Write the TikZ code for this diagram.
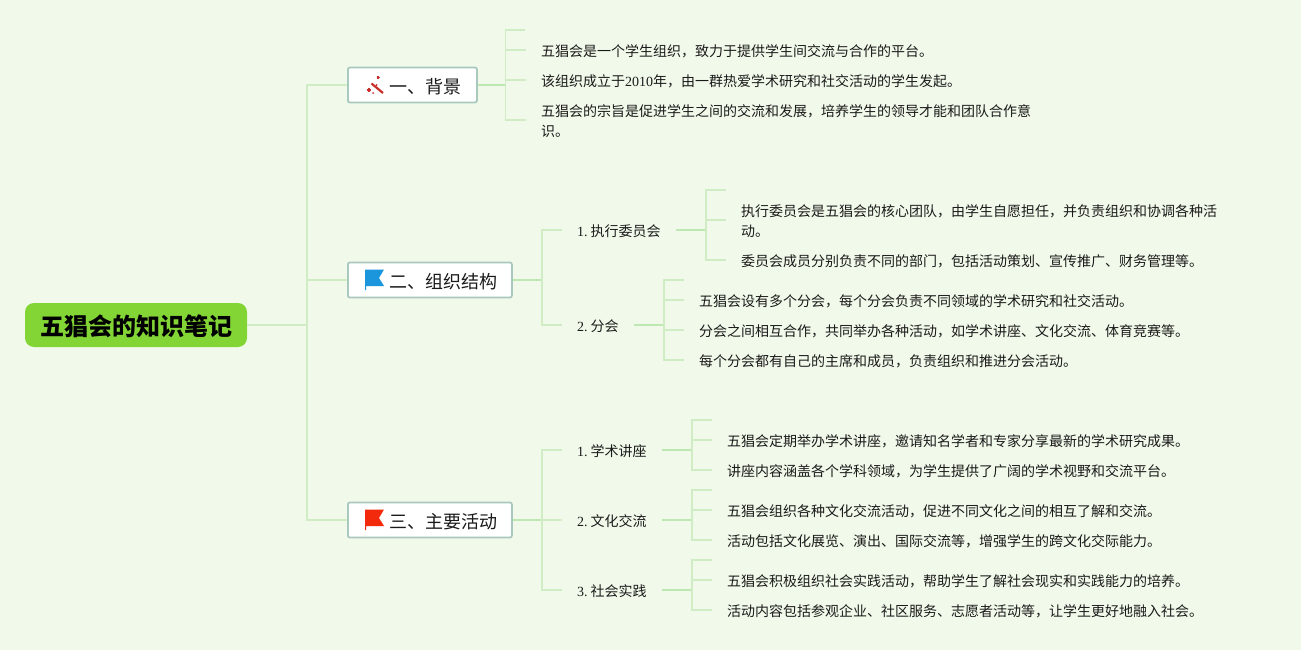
\documentclass[tikz,border=0pt]{standalone}
\usepackage{fontspec}
\setmainfont{Noto Sans CJK SC}
\newfontfamily\lat{Liberation Serif}
\definecolor{bgc}{HTML}{F1FAEA}
\definecolor{rootc}{HTML}{82D535}
\definecolor{edgec}{HTML}{A9C9BE}
\definecolor{conna}{HTML}{CFECC5}
\definecolor{connb}{HTML}{BDE8B1}
\definecolor{flagb}{HTML}{1B95DC}
\definecolor{flagr}{HTML}{F32A0B}
\definecolor{wand}{HTML}{C9302C}
\definecolor{ink}{HTML}{1A1A1A}
\tikzset{
  rootbox/.style={draw=none,fill=rootc,rounded corners=9pt,minimum width=222pt,minimum height=44pt,inner sep=0pt,text=black},
  rootlabel/.style={inner sep=0pt,font=\fontsize{24}{28}\selectfont\bfseries,text=black},
  branchbox/.style={anchor=west,draw=edgec,line width=1.8pt,fill=white,rounded corners=2pt,minimum height=35pt,inner sep=0pt,text=ink},
  branchlabel/.style={anchor=west,inner sep=0pt,font=\fontsize{18}{22}\selectfont,text=ink},
  subnode/.style={anchor=west,yshift=-0.5pt,inner ysep=0pt,inner xsep=15pt,outer sep=0pt,font=\fontsize{14}{20}\selectfont,text=ink},
  leafnode/.style={anchor=west,yshift=-0.5pt,inner ysep=0pt,inner xsep=15pt,outer sep=0pt,align=left,font=\fontsize{14}{20}\selectfont,text=ink},
  trunk/.style={draw=conna,line width=1.8pt},
  feed/.style={draw=connb,line width=1.8pt},
  stub/.style={draw=conna,line width=1.4pt},
}
\newcommand{\stubto}[2]{\draw[stub] (#1) |- ([yshift=1.5pt]#2.west);}
\newcommand{\numlab}[1]{{\lat #1.}\hspace{3pt}}
\begin{document}
\begin{tikzpicture}[x=1pt,y=-1pt]
\useasboundingbox (0,0) rectangle (1301,650);
\fill[bgc] (0,0) rectangle (1301,650);

% root and branches
\node[rootbox] (root) at (136,325) {\phantom{五}};
\node[rootlabel] (roott) at (136.5,326) {五猖会的知识笔记};
\node[branchbox,minimum width=129pt] (b1) at (347,85) {};
\node[branchbox,minimum width=164pt] (b2) at (347,280) {};
\node[branchbox,minimum width=164pt] (b3) at (347,520) {};
\node[branchlabel] (b1t) at (389,86.5) {一、背景};
\node[branchlabel] (b2t) at (389,281.5) {二、组织结构};
\node[branchlabel] (b3t) at (389,521.5) {三、主要活动};

\coordinate (t0) at (307,325);
\draw[trunk] (root.east) -- (t0);
\draw[trunk] (t0) |- (b1.west);
\draw[trunk] (t0) |- (b2.west);
\draw[trunk] (t0) |- (b3.west);

% icons
\draw[wand,line width=2.2pt] (371.5,83.5) -- (383,93);
\draw[wand,line width=1.6pt] (366.5,90) -- (371,90) (368.8,87.8) -- (368.8,92.2);
\draw[wand,line width=1.2pt] (376.5,77.5) -- (379.5,77.5) (378,76) -- (378,79);
\fill[wand] (376.5,85) circle (1);
\fill[wand] (373,93) circle (1);
\fill[flagb] (365,269.5) -- (384,269.5) -- (379,278) -- (384,286) -- (366.2,286) -- (366.2,290) -- (365,290) -- cycle;
\fill[flagr] (365,509.5) -- (384,509.5) -- (379,518) -- (384,526) -- (366.2,526) -- (366.2,530) -- (365,530) -- cycle;

% branch 1
\coordinate (j1) at (505.5,85);
\coordinate (e10) at (525,30);
\node[leafnode] (l11) at (526,51) {五猖会是一个学生组织，致力于提供学生间交流与合作的平台。};
\node[leafnode] (l12) at (526,81) {该组织成立于{\lat 2010}年，由一群热爱学术研究和社交活动的学生发起。};
\node[leafnode] (l13) at (526,121) {五猖会的宗旨是促进学生之间的交流和发展，培养学生的领导才能和团队合作意\\识。};
\draw[feed] (b1.east) -- (j1);
\draw[stub] (j1) |- (e10);
\stubto{j1}{l11}\stubto{j1}{l12}\stubto{j1}{l13}

% branch 2
\coordinate (j2) at (542,280);
\node[subnode] (s21) at (562,231) {\numlab{1}执行委员会};
\node[subnode] (s22) at (562,326) {\numlab{2}分会};
\draw[feed] (b2.east) -- (j2);
\stubto{j2}{s21}\stubto{j2}{s22}

\coordinate (j21) at (706,230);
\coordinate (e210) at (726,190);
\node[leafnode] (l211) at (726,221) {执行委员会是五猖会的核心团队，由学生自愿担任，并负责组织和协调各种活\\动。};
\node[leafnode] (l212) at (726,261) {委员会成员分别负责不同的部门，包括活动策划、宣传推广、财务管理等。};
\draw[feed] ([yshift=1.5pt]s21.east) -- (j21);
\draw[stub] (j21) |- (e210);
\stubto{j21}{l211}\stubto{j21}{l212}

\coordinate (j22) at (664,325);
\coordinate (e220) at (684,280);
\node[leafnode] (l221) at (684,301) {五猖会设有多个分会，每个分会负责不同领域的学术研究和社交活动。};
\node[leafnode] (l222) at (684,331) {分会之间相互合作，共同举办各种活动，如学术讲座、文化交流、体育竞赛等。};
\node[leafnode] (l223) at (684,361) {每个分会都有自己的主席和成员，负责组织和推进分会活动。};
\draw[feed] ([yshift=1.5pt]s22.east) -- (j22);
\draw[stub] (j22) |- (e220);
\stubto{j22}{l221}\stubto{j22}{l222}\stubto{j22}{l223}

% branch 3
\coordinate (j3) at (542,520);
\node[subnode] (s31) at (562,451) {\numlab{1}学术讲座};
\node[subnode] (s32) at (562,521) {\numlab{2}文化交流};
\node[subnode] (s33) at (562,591) {\numlab{3}社会实践};
\draw[feed] (b3.east) -- (j3);
\stubto{j3}{s31}\stubto{j3}{s32}\stubto{j3}{s33}

\coordinate (j31) at (692,450);
\coordinate (e310) at (712,420);
\node[leafnode] (l311) at (712,441) {五猖会定期举办学术讲座，邀请知名学者和专家分享最新的学术研究成果。};
\node[leafnode] (l312) at (712,471) {讲座内容涵盖各个学科领域，为学生提供了广阔的学术视野和交流平台。};
\draw[feed] ([yshift=1.5pt]s31.east) -- (j31);
\draw[stub] (j31) |- (e310);
\stubto{j31}{l311}\stubto{j31}{l312}

\coordinate (j32) at (692,520);
\coordinate (e320) at (712,490);
\node[leafnode] (l321) at (712,511) {五猖会组织各种文化交流活动，促进不同文化之间的相互了解和交流。};
\node[leafnode] (l322) at (712,541) {活动包括文化展览、演出、国际交流等，增强学生的跨文化交际能力。};
\draw[feed] ([yshift=1.5pt]s32.east) -- (j32);
\draw[stub] (j32) |- (e320);
\stubto{j32}{l321}\stubto{j32}{l322}

\coordinate (j33) at (692,590);
\coordinate (e330) at (712,560);
\node[leafnode] (l331) at (712,581) {五猖会积极组织社会实践活动，帮助学生了解社会现实和实践能力的培养。};
\node[leafnode] (l332) at (712,611) {活动内容包括参观企业、社区服务、志愿者活动等，让学生更好地融入社会。};
\draw[feed] ([yshift=1.5pt]s33.east) -- (j33);
\draw[stub] (j33) |- (e330);
\stubto{j33}{l331}\stubto{j33}{l332}
\end{tikzpicture}
\end{document}
